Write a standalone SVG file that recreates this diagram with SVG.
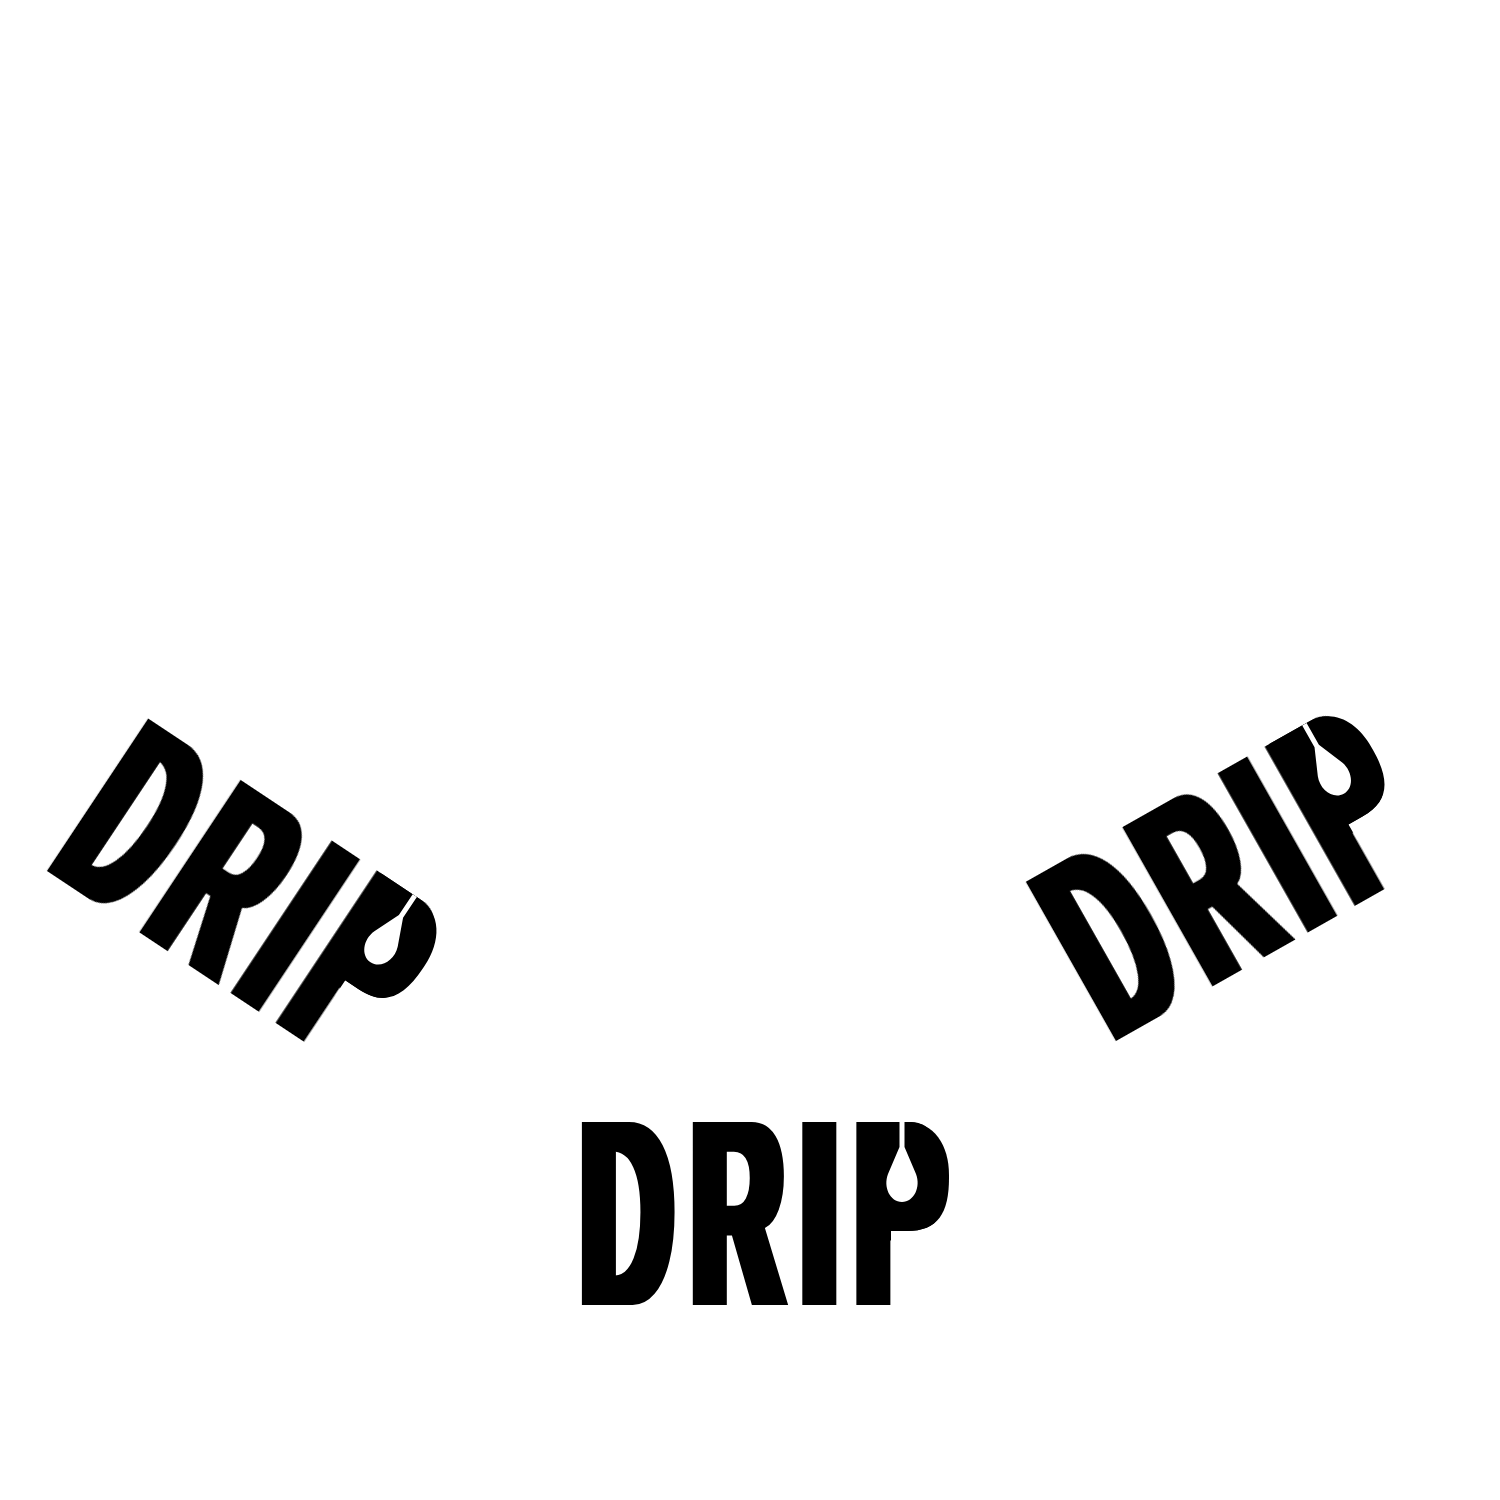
<svg xmlns="http://www.w3.org/2000/svg" width="1500" height="1500" viewBox="0 0 1500 1500">
<style>
.w{font-family:"Liberation Sans",Arial,sans-serif;font-weight:700;font-size:266px;fill:#000}
.d{fill:#fff}
.k{fill:#000}
</style>
<defs>
<filter id="fat" filterUnits="userSpaceOnUse" x="-100" y="-300" width="1100" height="400" color-interpolation-filters="sRGB"><feMorphology operator="dilate" radius="16 0"/></filter>
</defs>
<rect width="1500" height="1500" fill="#fff"/>
<g id="drip-bottom" transform="translate(582 1305)">
<text class="w" filter="url(#fat)" transform="scale(0.47 1)"><tspan x="-1">D</tspan><tspan x="235">R</tspan><tspan x="468">I</tspan><tspan x="583">P</tspan></text>
<path class="d" d="M375-127V-56H309V-74H325C356-74 367-92 367-127Z"/>
<path class="k" d="M280-183H325C352-183 367-160 367-130V-127C367-92 356-74 325-74H280Z"/>
<path class="d" d="M317.500-183H322.500V-158L334-131C339-118 332-103 320-103S301-118 306-131L317.500-158Z"/>
</g>
<g id="drip-left" transform="translate(47 871) rotate(33.6)">
<text class="w" filter="url(#fat)" transform="scale(0.47 1)"><tspan x="-1">D</tspan><tspan x="235">R</tspan><tspan x="468">I</tspan><tspan x="583">P</tspan></text>
<path class="d" d="M375-127V-56H309V-74H325C356-74 367-92 367-127Z"/>
<path class="k" d="M280-183H325C352-183 367-160 367-130V-127C367-92 356-74 325-74H280Z"/>
<path class="d" d="M317.500-183H322.500V-158L334-131C339-118 332-103 320-103S301-118 306-131L317.500-158Z"/>
</g>
<g id="drip-right" transform="translate(1116 1041) rotate(-29.5)">
<text class="w" filter="url(#fat)" transform="scale(0.47 1)"><tspan x="-1">D</tspan><tspan x="235">R</tspan><tspan x="468">I</tspan><tspan x="583">P</tspan></text>
<path class="d" d="M375-127V-56H309V-74H325C356-74 367-92 367-127Z"/>
<path class="k" d="M280-183H325C352-183 367-160 367-130V-127C367-92 356-74 325-74H280Z"/>
<path class="d" d="M317.500-183H322.500V-158L334-131C339-118 332-103 320-103S301-118 306-131L317.500-158Z"/>
</g>
</svg>
